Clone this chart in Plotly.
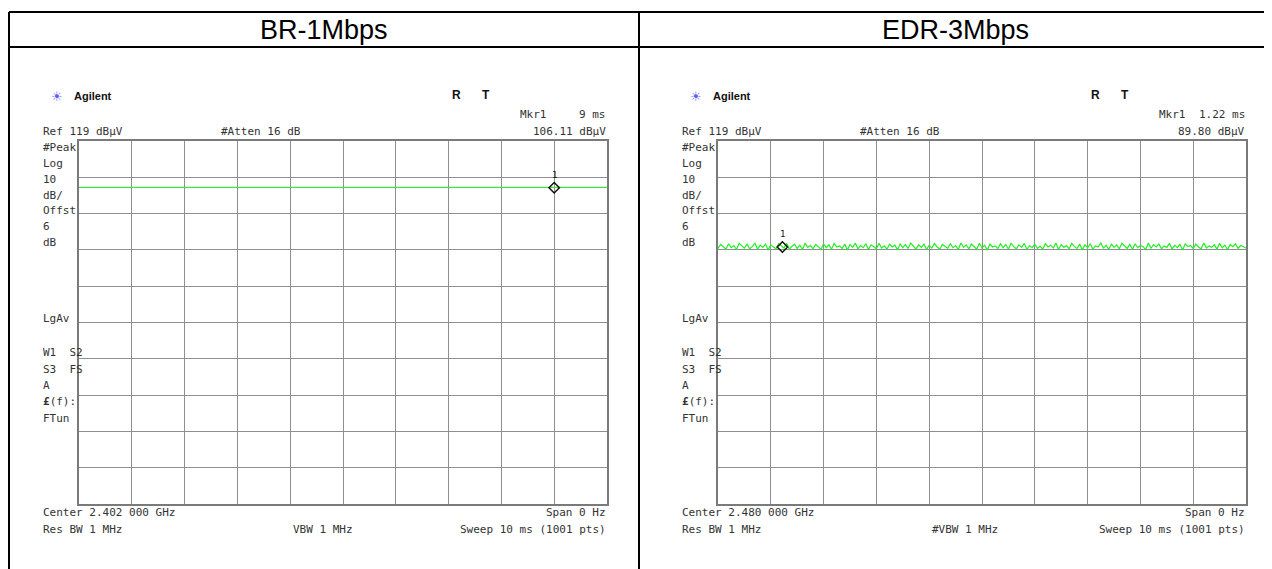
import plotly.graph_objects as go

# Browser page body has an 8px margin; figure is sized to fit inside the window.
OFF = 8
W, H = 1264, 561

# ---------------- data ----------------
panel_titles = ["BR-1Mbps", "EDR-3Mbps"]
ref_level_dbuv = 119
db_per_div = 10
sweep_ms = 10

br_trace_ms = [0, 2.5, 5, 7.5, 10]
br_trace_dbuv = [106.25, 106.25, 106.25, 106.25, 106.25]
br_marker_ms = [9]
br_marker_dbuv = [106.11]

edr_trace_ms = [i / 20 for i in range(201)]
edr_trace_dbuv = [
    89.4, 90.5, 89.9, 89.2, 90.7, 89.6, 90.2, 89.1, 90.8, 90.0,
    89.5, 90.6, 89.3, 89.9, 90.9, 89.2, 90.3, 89.7, 90.6, 89.0,
    90.4, 89.8, 89.3, 90.7, 90.1, 89.5, 90.8, 89.2, 90.0, 90.6,
    89.4, 90.3, 89.1, 90.9, 89.7, 90.2, 89.3, 90.5, 89.9, 89.1,
    90.7, 89.6, 90.4, 89.2, 90.8, 89.8, 90.1, 89.4, 90.6, 89.0,
    90.5, 89.7, 90.9, 89.3, 90.2, 89.6, 90.7, 89.1, 90.4, 89.9,
    89.3, 90.8, 89.5, 90.1, 89.2, 90.6, 89.8, 90.3, 89.0, 90.7,
    89.6, 90.5, 89.4, 90.9, 89.9, 89.2, 90.4, 89.7, 90.6, 89.1,
    90.3, 89.5, 90.8, 89.8, 89.2, 90.5, 90.0, 89.4, 90.7, 89.6,
    90.2, 89.1, 90.9, 89.7, 90.4, 89.3, 90.6, 89.9, 89.2, 90.8,
    89.5, 90.3, 89.0, 90.6, 89.8, 90.1, 89.4, 90.7, 89.6, 90.5,
    89.2, 90.9, 89.9, 89.3, 90.4, 89.7, 90.8, 89.1, 90.2, 89.6,
    90.6, 89.4, 90.0, 89.2, 90.7, 89.8, 90.3, 89.5, 90.9, 89.1,
    90.5, 89.7, 90.2, 89.3, 90.8, 89.9, 89.4, 90.6, 89.0, 90.4,
    89.6, 90.7, 89.2, 90.1, 89.8, 90.9, 89.5, 90.3, 89.1, 90.6,
    89.7, 90.4, 89.3, 90.8, 90.0, 89.4, 90.5, 89.2, 90.7, 89.6,
    90.2, 89.9, 89.1, 90.9, 89.5, 90.4, 89.8, 90.6, 89.3, 90.1,
    89.7, 90.8, 89.2, 90.3, 89.6, 90.5, 89.0, 90.7, 89.9, 90.2,
    89.4, 90.6, 89.8, 89.3, 90.9, 89.5, 90.1, 89.7, 90.4, 89.2,
    90.8, 89.6, 90.3, 89.1, 90.5, 89.9, 90.7, 89.4, 90.2, 89.8,
    89.5,
]
edr_marker_ms = [1.22]
edr_marker_dbuv = [89.80]

mkr_time_labels = ["9 ms", "1.22 ms"]
mkr_level_labels = ["106.11 dBμV", "89.80 dBμV"]
center_labels = ["Center 2.402 000 GHz", "Center 2.480 000 GHz"]
vbw_labels = ["VBW 1 MHz", "#VBW 1 MHz"]
side_labels_top = ["#Peak", "Log", "10", "dB/", "Offst", "6", "dB"]

# ---------------- layout helpers ----------------
def px_x(x):
    return (x - OFF) / W

def px_y(y):
    return 1 - (y - OFF) / H

grid_left = [79, 718]
grid_w = 528
grid_top, grid_bot = 141, 504

fig = go.Figure()

TXT = "#333333"
MONO = "DejaVu Sans Mono, Liberation Mono, monospace"

fig.add_trace(go.Scatter(x=br_trace_ms, y=br_trace_dbuv, mode="lines",
                         line=dict(color="#44e044", width=1.2),
                         xaxis="x", yaxis="y", hoverinfo="skip", showlegend=False))
fig.add_trace(go.Scatter(x=br_marker_ms, y=br_marker_dbuv, mode="markers",
                         marker=dict(symbol="diamond-open", size=8, color="#111",
                                     line=dict(width=1.5, color="#111")),
                         xaxis="x", yaxis="y", showlegend=False))
fig.add_trace(go.Scatter(x=edr_trace_ms, y=edr_trace_dbuv, mode="lines",
                         line=dict(color="#22ee22", width=1.2),
                         xaxis="x2", yaxis="y2", hoverinfo="skip", showlegend=False))
fig.add_trace(go.Scatter(x=edr_marker_ms, y=edr_marker_dbuv, mode="markers",
                         marker=dict(symbol="diamond-open", size=8, color="#111",
                                     line=dict(width=1.5, color="#111")),
                         xaxis="x2", yaxis="y2", showlegend=False))

axis_common = dict(showgrid=True, gridcolor="#8f8f8f", gridwidth=1, zeroline=False,
                   showticklabels=False, ticks="", showline=True, linecolor="#7a7a7a",
                   linewidth=2, mirror=True, fixedrange=True)

ydom = [px_y(grid_bot), px_y(grid_top)]
fig.update_layout(
    width=W, height=H,
    margin=dict(l=0, r=0, t=0, b=0),
    paper_bgcolor="white", plot_bgcolor="white",
    xaxis=dict(domain=[px_x(grid_left[0]), px_x(grid_left[0] + grid_w)],
               range=[0, sweep_ms], dtick=1, anchor="y", **axis_common),
    yaxis=dict(domain=ydom, range=[ref_level_dbuv - 10 * db_per_div, ref_level_dbuv],
               tick0=ref_level_dbuv, dtick=db_per_div, anchor="x", **axis_common),
    xaxis2=dict(domain=[px_x(grid_left[1]), px_x(grid_left[1] + grid_w)],
                range=[0, sweep_ms], dtick=1, anchor="y2", **axis_common),
    yaxis2=dict(domain=ydom, range=[ref_level_dbuv - 10 * db_per_div, ref_level_dbuv],
                tick0=ref_level_dbuv, dtick=db_per_div, anchor="x2", **axis_common),
)

ann = []
def txt(x, y, s, size=11, anchor="left", color=TXT, family=MONO, bold=False):
    if bold:
        s = "<b>" + s + "</b>"
    ann.append(dict(x=px_x(x), y=px_y(y), xref="paper", yref="paper", text=s,
                    showarrow=False, xanchor=anchor, yanchor="middle",
                    font=dict(size=size, color=color, family=family)))

# table header titles
txt(324, 30, panel_titles[0], size=27, anchor="center", color="#000",
    family="Liberation Sans, Arial, sans-serif")
txt(955, 30, panel_titles[1], size=27, anchor="center", color="#000",
    family="Liberation Sans, Arial, sans-serif")

for i in range(2):
    gl = grid_left[i]
    gr = gl + grid_w
    lx = gl - 38
    txt(gl - 22, 96, "☀", size=13, anchor="center", color="#5b5bff",
        family="DejaVu Sans")
    txt(gl - 7, 96, "Agilent", size=11, bold=True, color="#111",
        family="Liberation Sans, Arial, sans-serif")
    txt(gl + 371, 95, "R", size=12, bold=True, color="#111",
        family="Liberation Sans, Arial, sans-serif")
    txt(gl + 401, 95, "T", size=12, bold=True, color="#111",
        family="Liberation Sans, Arial, sans-serif")
    txt(gl + 439, 114, "Mkr1")
    txt(gr + 1, 114, mkr_time_labels[i], anchor="right")
    txt(gr + 1, 131, mkr_level_labels[i], anchor="right")
    txt(lx, 131, "Ref 119 dBμV")
    txt(gl + 140, 131, "#Atten 16 dB")
    for k, s in enumerate(side_labels_top):
        txt(lx, 148 + k * 15.7, s)
    txt(lx, 318, "LgAv")
    txt(lx, 352, "W1  S2")
    txt(lx, 369, "S3  FS")
    txt(lx, 385, "A")
    txt(lx, 401, "<b>£</b>(f):")
    txt(lx, 418, "FTun")
    txt(lx, 512, center_labels[i])
    txt(gr + 1, 512, "Span 0 Hz", anchor="right")
    txt(lx, 529, "Res BW 1 MHz")
    txt(gl + 212, 529, vbw_labels[i])
    txt(gr + 1, 529, "Sweep 10 ms (1001 pts)", anchor="right")

# marker number labels, anchored at the marker data positions
ann.append(dict(x=br_marker_ms[0], y=br_marker_dbuv[0], xref="x", yref="y", text="1",
                showarrow=False, yshift=13, font=dict(size=9, color="#111", family=MONO)))
ann.append(dict(x=edr_marker_ms[0], y=edr_marker_dbuv[0], xref="x2", yref="y2", text="1",
                showarrow=False, yshift=13, font=dict(size=9, color="#111", family=MONO)))

shapes = []
def line(x0, y0, x1, y1):
    shapes.append(dict(type="line", xref="paper", yref="paper",
                       x0=px_x(x0), y0=px_y(y0), x1=px_x(x1), y1=px_y(y1),
                       line=dict(color="#000", width=2)))

line(9, 12, 1272, 12)
line(9, 47, 1272, 47)
line(9, 12, 9, 569)
line(639, 12, 639, 569)

fig.update_layout(annotations=ann, shapes=shapes)
fig.write_html("out.html")
